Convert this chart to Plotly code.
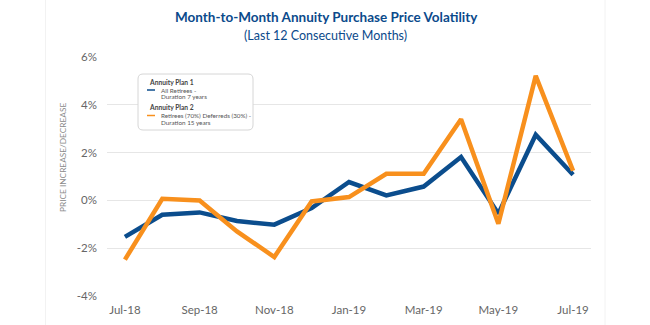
import plotly.graph_objects as go

months = ["Jul-18", "Aug-18", "Sep-18", "Oct-18", "Nov-18", "Dec-18", "Jan-19",
          "Feb-19", "Mar-19", "Apr-19", "May-19", "Jun-19", "Jul-19"]
plan1 = [-1.52, -0.60, -0.50, -0.86, -1.01, -0.32, 0.77, 0.21, 0.58, 1.81, -0.55, 2.74, 1.07]
plan2 = [-2.47, 0.07, 0.00, -1.29, -2.36, -0.04, 0.14, 1.11, 1.11, 3.39, -0.97, 5.20, 1.24]
tick_months = months[::2]
y_ticks = [-4, -2, 0, 2, 4, 6]
y_tick_text = ["-4%", "-2%", "0%", "2%", "4%", "6%"]

BLUE = "#0b4d8d"
ORANGE = "#f8901d"
FONT = "Lato"

fig = go.Figure()
fig.add_trace(go.Scatter(x=months, y=plan1, mode="lines", name="Plan 1",
                         line=dict(color=BLUE, width=4.5), showlegend=False))
fig.add_trace(go.Scatter(x=months, y=plan2, mode="lines", name="Plan 2",
                         line=dict(color=ORANGE, width=4.5), showlegend=False))

L, R, T, B = 107, 59, 56, 28
W, H = 650, 325
pw, ph = W - L - R, H - T - B

def px(x):
    return (x - L) / pw

def py(y):
    return (H - B - y) / ph

annotations = [
    dict(text="<b>Month-to-Month Annuity Purchase Price Volatility</b>", x=px(326), y=py(17),
         font=dict(family=FONT, size=13.5, color="#0b4a8b")),
    dict(text="(Last 12 Consecutive Months)", x=px(325), y=py(35),
         font=dict(family=FONT, size=12.5, color="#0b4a8b")),
    dict(text="PRICE INCREASE/DECREASE", x=px(63), y=py(158), textangle=-90,
         font=dict(family=FONT, size=8.3, color="#8a8a8a")),
    dict(text="<b>Annuity Plan 1</b>", x=px(146.5), y=py(82), xanchor="left",
         font=dict(family=FONT, size=6.7, color="#444444")),
    dict(text="All Retirees -", x=px(159), y=py(90), xanchor="left",
         font=dict(family=FONT, size=6.3, color="#555555")),
    dict(text="Duration 7 years", x=px(159), y=py(96.5), xanchor="left",
         font=dict(family=FONT, size=6.3, color="#555555")),
    dict(text="<b>Annuity Plan 2</b>", x=px(146.5), y=py(107), xanchor="left",
         font=dict(family=FONT, size=6.7, color="#444444")),
    dict(text="Retirees (70%) Deferreds (30%) -", x=px(159), y=py(115.5), xanchor="left",
         font=dict(family=FONT, size=6.3, color="#555555")),
    dict(text="Duration 15 years", x=px(159), y=py(122.5), xanchor="left",
         font=dict(family=FONT, size=6.3, color="#555555")),
]
for a in annotations:
    a.update(xref="paper", yref="paper", showarrow=False)
    a.setdefault("xanchor", "center")
    a.setdefault("yanchor", "middle")

def rounded_rect(x0, y0, x1, y1, r):
    X0, X1 = px(x0), px(x1)
    Y0, Y1 = py(y0), py(y1)
    rx, ry = r / pw, r / ph
    return (f"M {X0+rx} {Y0} L {X1-rx} {Y0} Q {X1} {Y0} {X1} {Y0-ry} "
            f"L {X1} {Y1+ry} Q {X1} {Y1} {X1-rx} {Y1} L {X0+rx} {Y1} "
            f"Q {X0} {Y1} {X0} {Y1+ry} L {X0} {Y0-ry} Q {X0} {Y0} {X0+rx} {Y0} Z")

shapes = [
    dict(type="line", xref="paper", yref="paper", x0=px(45.5), x1=px(45.5), y0=py(0), y1=py(325),
         line=dict(color="#f2f2f2", width=1), layer="below"),
    dict(type="line", xref="paper", yref="paper", x0=px(605), x1=px(605), y0=py(0), y1=py(325),
         line=dict(color="#f2f2f2", width=1), layer="below"),
    dict(type="path", xref="paper", yref="paper", path=rounded_rect(138, 74, 253, 130, 5),
         fillcolor="white", line=dict(color="#d6d6d6", width=1), layer="above"),
    dict(type="line", xref="paper", yref="paper", x0=px(147), x1=px(155), y0=py(90), y1=py(90),
         line=dict(color=BLUE, width=1.5), layer="above"),
    dict(type="line", xref="paper", yref="paper", x0=px(147), x1=px(155), y0=py(115.5), y1=py(115.5),
         line=dict(color=ORANGE, width=1.5), layer="above"),
]

fig.update_layout(
    width=W, height=H,
    margin=dict(l=L, r=R, t=T, b=B, autoexpand=False),
    paper_bgcolor="white", plot_bgcolor="white",
    font=dict(family=FONT, color="#666666"),
    annotations=annotations,
    shapes=shapes,
    xaxis=dict(type="category", categoryorder="array", categoryarray=months,
               range=[-0.48, 12.48], tickvals=tick_months, ticktext=tick_months,
               showgrid=False, zeroline=False, showline=False, automargin=False,
               tickfont=dict(size=11.5, color="#666666"), ticks="", ticklabelstandoff=4),
    yaxis=dict(range=[-4.03, 6.03], tickvals=y_ticks, ticktext=y_tick_text,
               showgrid=True, gridcolor="#e6e6e6", gridwidth=1.2,
               zeroline=False, showline=False, automargin=False,
               tickfont=dict(size=11.5, color="#666666"), ticks="", ticklabelstandoff=9),
)

fig.write_html("out.html")
